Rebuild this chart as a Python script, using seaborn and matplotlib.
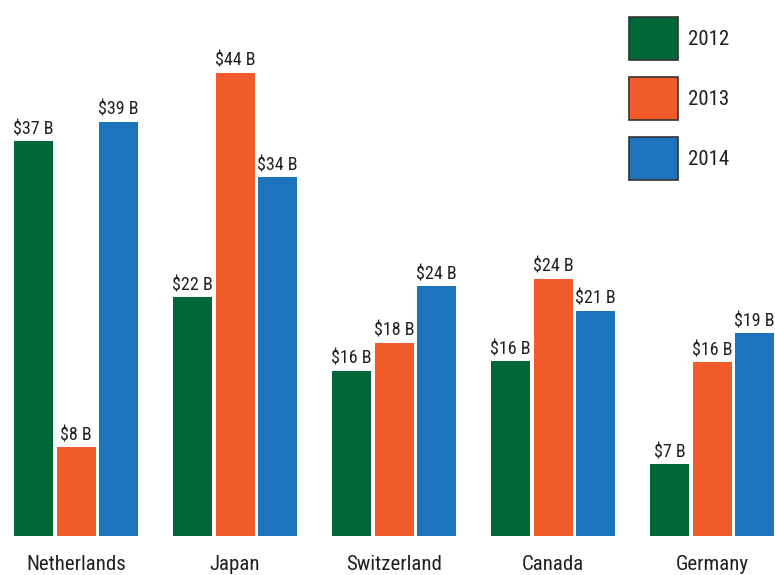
import pandas as pd
import matplotlib.pyplot as plt
import seaborn as sns
from matplotlib.patches import Patch

# bar data (labels as printed)
countries = ['Netherlands', 'Japan', 'Switzerland', 'Canada', 'Germany']
years = ['2012', '2013', '2014']
values_2012 = [37.0, 22.4, 15.5, 16.4, 6.7]
values_2013 = [8.3, 43.4, 18.1, 24.1, 16.3]
values_2014 = [38.8, 33.6, 23.4, 21.1, 19.0]
labels_2012 = [37, 22, 16, 16, 7]
labels_2013 = [8, 44, 18, 24, 16]
labels_2014 = [39, 34, 24, 21, 19]
colors = ['#006838', '#F15A29', '#1C75BC']


def build_frame():
    rows = []
    for year, vals in zip(years, [values_2012, values_2013, values_2014]):
        for c, v in zip(countries, vals):
            rows.append({'country': c, 'year': year, 'value': v})
    return pd.DataFrame(rows)


def draw():
    sns.set_style('white')
    plt.rcParams['font.family'] = ['Roboto Condensed', 'Roboto', 'DejaVu Sans']
    df = build_frame()

    fig = plt.figure(figsize=(7.75, 5.75), dpi=100)
    ax = fig.add_axes([0, 39 / 575, 1, 536 / 575])
    sns.barplot(data=df, x='country', y='value', hue='year', order=countries,
                hue_order=years, palette=colors, width=0.8, gap=0.08,
                linewidth=0, saturation=1, legend=False, ax=ax)

    for cont, labs in zip(ax.containers, [labels_2012, labels_2013, labels_2014]):
        ax.bar_label(cont, labels=[f'${v} B' for v in labs], padding=2,
                     fontsize=13, color='#231f20')

    ax.set_xlim(-0.478, 4.396)
    ax.set_ylim(0, 50.2)
    ax.set_xlabel('')
    ax.set_ylabel('')
    ax.set_yticks([])
    ax.tick_params(axis='x', length=0, pad=14, labelsize=15, labelcolor='#231f20')
    sns.despine(ax=ax, left=True, bottom=True)

    # legend squares with dark outline, stacked top right
    handles = [Patch(facecolor=c, edgecolor='#333333', linewidth=1.2, label=y)
               for c, y in zip(colors, years)]
    ax.legend(handles=handles, loc='upper left', bbox_to_anchor=(629 / 775, 1 - 17 / 536),
              bbox_transform=ax.transAxes, frameon=False, fontsize=15,
              handlelength=2.35, handleheight=2.80, labelspacing=0.82,
              handletextpad=0.48, borderpad=0, borderaxespad=0, labelcolor='#231f20')

    fig.savefig('out.png', dpi=100)


if __name__ == '__main__':
    draw()
